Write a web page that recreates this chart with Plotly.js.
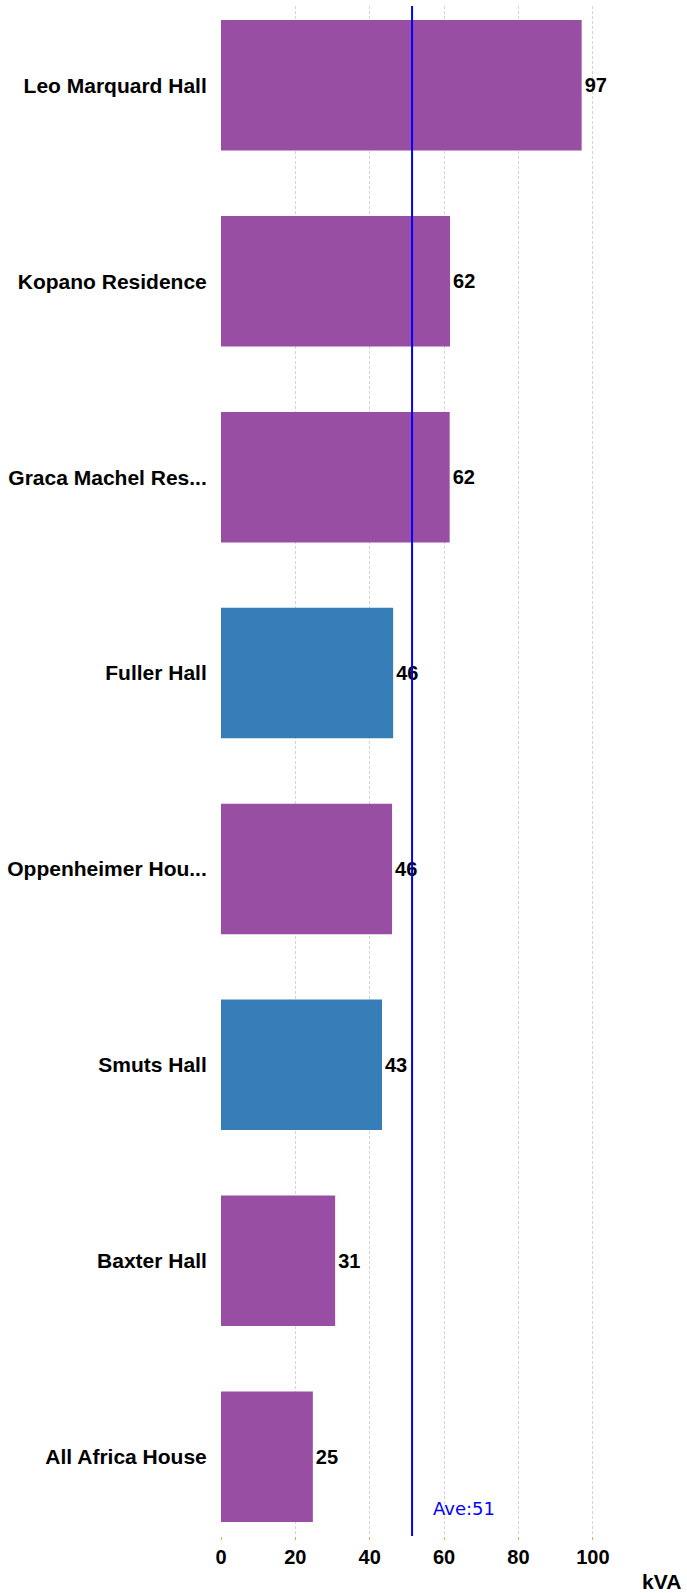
<!DOCTYPE html>
<html>
<head>
<meta charset="utf-8">
<script src="https://cdn.plot.ly/plotly-3.0.1.min.js"></script>
<style>html,body{margin:0;padding:0;background:#fff;}#chart{width:687px;height:1593px;}</style>
</head>
<body>
<div id="chart"></div>
<script>
const categories = ["Leo Marquard Hall", "Kopano Residence", "Graca Machel Res...", "Fuller Hall", "Oppenheimer Hou...", "Smuts Hall", "Baxter Hall", "All Africa House"];
const values = [97, 61.6, 61.5, 46.3, 46.0, 43.3, 30.7, 24.7];
const groups = ["purple", "purple", "purple", "blue", "purple", "blue", "purple", "purple"];
const xTicks = [0, 20, 40, 60, 80, 100];
const axisTitle = "kVA";

const colourMap = {purple: "#984ea3", blue: "#377eb8"};
const average = values.reduce((a, b) => a + b, 0) / values.length;
const FONT = "Liberation Sans, Arial, sans-serif";

const trace = {
  type: "bar",
  orientation: "h",
  y: categories,
  x: values,
  marker: {color: groups.map(g => colourMap[g])},
  width: 0.666,
  text: values.map(v => Math.round(v).toString()),
  textposition: "outside",
  cliponaxis: false,
  textfont: {family: FONT, size: 20, color: "#000", weight: "bold"},
  hoverinfo: "none"
};

const layout = {
  width: 687,
  height: 1593,
  margin: {l: 221, r: 57.3, t: 6, b: 57},
  paper_bgcolor: "#fff",
  plot_bgcolor: "#fff",
  showlegend: false,
  xaxis: {
    range: [0, 110],
    tickvals: xTicks,
    ticktext: xTicks.map(String),
    showgrid: true,
    gridcolor: "#d4d4d4",
    griddash: "3px,2px",
    gridwidth: 1,
    zeroline: false,
    showline: false,
    ticks: "outside",
    ticklen: 3,
    tickcolor: "#f5a05a",
    tickfont: {family: FONT, size: 20, color: "#000", weight: "bold"}
  },
  yaxis: {
    type: "category",
    categoryorder: "array",
    categoryarray: categories,
    range: [7.405, -0.405],
    showgrid: false,
    zeroline: false,
    showline: false,
    ticks: "outside",
    ticklen: 9,
    tickcolor: "rgba(0,0,0,0)",
    tickfont: {family: FONT, size: 21, color: "#000", weight: "bold"}
  },
  shapes: [{
    type: "line",
    xref: "x", yref: "paper",
    x0: average, x1: average, y0: 0, y1: 1,
    line: {color: "#0000ff", width: 2},
    layer: "above"
  }],
  annotations: [
    {
      xref: "x", yref: "paper",
      x: average, y: 0.0183,
      xanchor: "left", yanchor: "middle", xshift: 19,
      text: "Ave:" + Math.round(average),
      showarrow: false,
      font: {family: "DejaVu Sans, Verdana, sans-serif", size: 18, color: "#0000ff"}
    },
    {
      xref: "paper", yref: "paper",
      x: 1.13, y: -0.030,
      xanchor: "right", yanchor: "middle",
      text: axisTitle,
      showarrow: false,
      font: {family: FONT, size: 21, color: "#000", weight: "bold"}
    }
  ]
};

Plotly.newPlot("chart", [trace], layout, {displayModeBar: false, staticPlot: true});
</script>
</body>
</html>
